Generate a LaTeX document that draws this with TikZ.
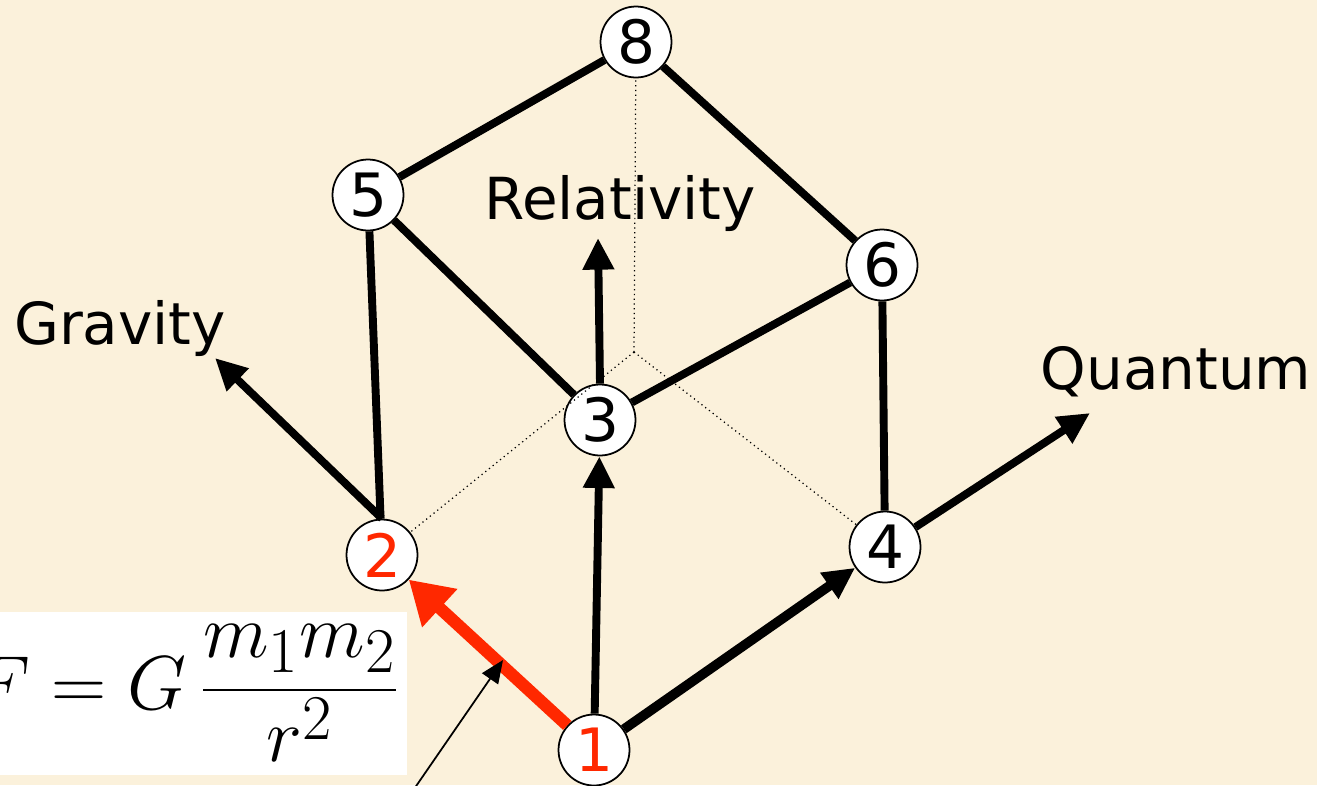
\documentclass[tikz,border=0pt]{standalone}
\usepackage{fontspec}
\setmainfont{DejaVu Sans}
\usetikzlibrary{arrows.meta}
\definecolor{parchemin}{RGB}{251,241,219}
\definecolor{rougeAxe}{RGB}{255,40,0}

\begin{document}
\begin{tikzpicture}[
    x=0.02cm, y=-0.02cm,
    sommet/.style={draw, circle, fill=white, line width=1pt, minimum size=1.42cm, inner sep=0pt, font=\fontsize{34}{34}\selectfont},
    arete/.style={line width=4.5pt},
    axe/.style={line width=4.5pt, -{Triangle[length=18pt, width=17pt]}},
    cache/.style={dotted, line width=0.7pt},
    etiquette/.style={font=\fontsize{33}{33}\selectfont}
]
\useasboundingbox (0,0) rectangle (1317,785);
\clip (0,0) rectangle (1317,785);
\fill[parchemin] (0,0) rectangle (1317,785);

\node[sommet] (n1) at (594,750) {\textcolor{rougeAxe}{1}};
\node[sommet] (n2) at (382,555) {\textcolor{rougeAxe}{2}};
\node[sommet] (n3) at (600,420) {3};
\node[sommet] (n4) at (885,547) {4};
\node[sommet] (n5) at (368,195) {5};
\node[sommet] (n6) at (882,265) {6};
\node[sommet] (n8) at (636,42) {8};
\coordinate (n7) at (634,352);

% sommet cache et aretes en pointille
\draw[cache] (n7) -- (n8);
\draw[cache] (n7) -- (n2);
\draw[cache] (n7) -- (n4);

\draw[arete] (n2) -- (n5);
\draw[arete] (n3) -- (n5);
\draw[arete] (n3) -- (n6);
\draw[arete] (n4) -- (n6);
\draw[arete] (n5) -- (n8);
\draw[arete] (n6) -- (n8);

\draw[axe] (n1) -- (n3);
\draw[axe, line width=5.5pt] (n1) -- (n4);
\draw[line width=7pt, rougeAxe, -{Triangle[length=24pt, width=28pt]}] (n1) -- (n2);

% axes vers les etiquettes
\coordinate (gravite) at (215,358);
\coordinate (relativite) at (598,238);
\coordinate (quantique) at (1090,413);
\draw[axe] (n2.north) -- (gravite);
\draw[axe] (n3.north) -- (relativite);
\draw[axe] (n4) -- (quantique);

\node[etiquette] (lgrav) at (120,328) {Gravity};
\node[etiquette] (lrel) at (620,203) {Relativity};
\node[etiquette] (lquant) at (1176,372) {Quantum};

\node[fill=white, anchor=east, minimum height=3.26cm, inner xsep=4pt, font=\fontsize{24.88}{30}\selectfont] (formule) at (407,693) {\scalebox{1.75}{$\displaystyle F = G\,\frac{m_1 m_2}{r^2}$}};

\coordinate (queue) at (412,792);
\coordinate (cible) at (503,660);
\draw[line width=1pt, -{Triangle[length=13pt, width=11pt]}] (queue) -- (cible);
\end{tikzpicture}
\end{document}
